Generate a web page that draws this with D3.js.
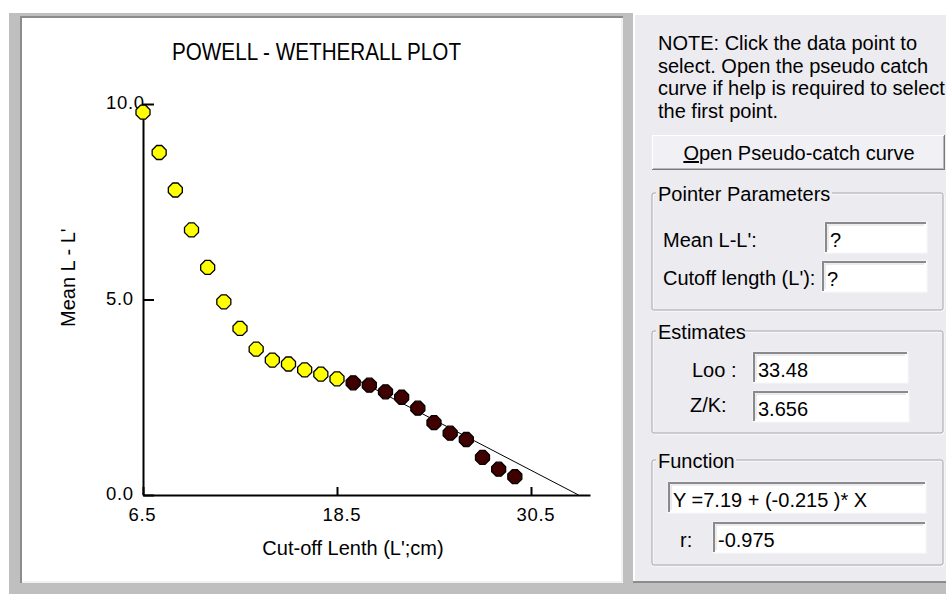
<!DOCTYPE html>
<html>
<head>
<meta charset="utf-8">
<script src="https://cdn.jsdelivr.net/npm/d3@7"></script>
<style>
  body { margin: 0; background: #fff; }
  svg { display: block; font-family: 'Liberation Sans', Arial, sans-serif; }
</style>
</head>
<body>
<svg id="chart" width="946" height="594"></svg>
<script>
// Values
const cutoffLength = [6.5, 7.5, 8.5, 9.5, 10.5, 11.5, 12.5, 13.5, 14.5, 15.5, 16.5, 17.5,
                      18.5, 19.5, 20.5, 21.5, 22.5, 23.5, 24.5, 25.5, 26.5, 27.5, 28.5, 29.5];
const meanDiff = [9.79, 8.76, 7.80, 6.78, 5.82, 4.94, 4.26, 3.73, 3.45, 3.35, 3.20, 3.09,
                  2.97, 2.87, 2.81, 2.64, 2.50, 2.22, 1.85, 1.58, 1.42, 0.96, 0.66, 0.47];
const firstSelected = 19.5;   // points from here on are used in the regression
const fitIntercept = 7.19;
const fitSlope = -0.215;

const xTickValues = [6.5, 18.5, 30.5];
const yTickValues = [0, 5, 10];

const noteLines = [
  'NOTE: Click the data point to',
  'select. Open the pseudo catch',
  'curve if help is required to select',
  'the first point.'
];

const svg = d3.select('#chart');
const face = '#ecebf0';

// ---- window frame ----
svg.append('rect').attr('x', 9).attr('y', 13).attr('width', 937).attr('height', 581).attr('fill', '#bfbfbf');

// left (plot) panel, sunken
svg.append('rect').attr('x', 20).attr('y', 16).attr('width', 603).attr('height', 567).attr('fill', '#8c8c8c');
svg.append('rect').attr('x', 22).attr('y', 18).attr('width', 601).attr('height', 565).attr('fill', '#f2f2f2');
svg.append('rect').attr('x', 22).attr('y', 18).attr('width', 599).attr('height', 563).attr('fill', '#fff');

// right (controls) panel
svg.append('rect').attr('x', 633).attr('y', 13).attr('width', 313).attr('height', 570).attr('fill', '#8c8c8c');
svg.append('rect').attr('x', 633).attr('y', 13).attr('width', 313).attr('height', 568).attr('fill', '#fff');
svg.append('rect').attr('x', 635).attr('y', 15).attr('width', 311).attr('height', 566).attr('fill', face);

// ---- plot ----
const x = d3.scaleLinear().domain([6.5, 34.15]).range([143, 590]);
const y = d3.scaleLinear().domain([0, 10]).range([495, 104]);

svg.append('text')
  .attr('x', 172).attr('y', 60)
  .attr('font-size', 24)
  .attr('font-family', "'Liberation Sans Narrow', 'Liberation Sans', Arial, sans-serif")
  .attr('textLength', 289)
  .attr('lengthAdjust', 'spacingAndGlyphs')
  .text('POWELL - WETHERALL PLOT');

const xAxis = svg.append('g')
  .attr('transform', 'translate(0,495)')
  .call(d3.axisBottom(x).tickValues(xTickValues).tickFormat(d3.format('.1f'))
    .tickSizeInner(-8).tickSizeOuter(0).tickPadding(22));

const yAxis = svg.append('g')
  .attr('transform', 'translate(143,0)')
  .call(d3.axisLeft(y).tickValues(yTickValues).tickFormat(d3.format('.1f'))
    .tickSizeInner(-11).tickSizeOuter(0));

[xAxis, yAxis].forEach(a => {
  a.select('.domain').attr('stroke', '#000').attr('stroke-width', 2);
  a.selectAll('.tick line').attr('stroke', '#000').attr('stroke-width', 2);
  a.selectAll('.tick text').attr('fill', '#000').attr('font-size', 18.5)
    .attr('letter-spacing', 0.7)
    .attr('font-family', "'Liberation Sans', Arial, sans-serif");
});
xAxis.selectAll('.tick text')
  .attr('text-anchor', 'start').attr('x', -15).attr('y', 0).attr('dy', null)
  .attr('transform', 'translate(0,26)');
yAxis.selectAll('.tick text')
  .attr('text-anchor', 'start').attr('x', -37).attr('dy', null).attr('y', 4.5);

svg.append('text')
  .attr('x', 353).attr('y', 555)
  .attr('text-anchor', 'middle').attr('font-size', 20)
  .text("Cut-off Lenth (L';cm)");

svg.append('text')
  .attr('transform', 'translate(75,327) rotate(-90)')
  .attr('text-anchor', 'start').attr('font-size', 20)
  .text("Mean L - L'");

// regression line from first selected point down to the x-intercept
const xEnd = -fitIntercept / fitSlope;
svg.append('line')
  .attr('x1', x(firstSelected)).attr('y1', y(fitIntercept + fitSlope * firstSelected))
  .attr('x2', x(xEnd)).attr('y2', y(0))
  .attr('stroke', '#000').attr('stroke-width', 1);

const points = cutoffLength.map((c, i) => ({ c, m: meanDiff[i] }));
const marker = 'M-2.5,-7L2.5,-7L7,-2.5L7,2.5L2.5,7L-2.5,7L-7,2.5L-7,-2.5Z';
svg.append('g').selectAll('path')
  .data(points)
  .join('path')
  .attr('d', marker)
  .attr('transform', d => `translate(${x(d.c)},${y(d.m)})`)
  .attr('fill', d => d.c >= firstSelected ? '#400000' : '#ffff00')
  .attr('stroke', '#000')
  .attr('stroke-width', 1.3);

// ---- control panel ----
const panel = svg.append('g').attr('font-size', 20).attr('fill', '#000');

panel.selectAll('text.note')
  .data(noteLines)
  .join('text')
  .attr('class', 'note')
  .attr('x', 658)
  .attr('y', (d, i) => 50 + i * 22.7)
  .text(d => d);

// button
panel.append('rect').attr('x', 652).attr('y', 135).attr('width', 293).attr('height', 35).attr('fill', '#7a7a7a');
panel.append('rect').attr('x', 652).attr('y', 135).attr('width', 292).attr('height', 34).attr('fill', '#fff');
panel.append('rect').attr('x', 653).attr('y', 136).attr('width', 291).attr('height', 33).attr('fill', '#b8b8bc');
panel.append('rect').attr('x', 653).attr('y', 136).attr('width', 290).attr('height', 32).attr('fill', '#f1f0f4');
const btn = panel.append('text').attr('x', 799).attr('y', 160).attr('text-anchor', 'middle');
btn.append('tspan').style('text-decoration', 'underline').text('O');
btn.append('tspan').text('pen Pseudo-catch curve');

function groupBox(x0, y0, w, h, label, labelWidth) {
  panel.append('rect').attr('x', x0 + 1).attr('y', y0 + 1).attr('width', w).attr('height', h)
    .attr('fill', 'none').attr('stroke', '#fff').attr('rx', 2);
  panel.append('rect').attr('x', x0).attr('y', y0).attr('width', w).attr('height', h)
    .attr('fill', 'none').attr('stroke', '#a5a4aa').attr('rx', 2);
  panel.append('rect').attr('x', x0 + 4).attr('y', y0 - 3).attr('width', labelWidth).attr('height', 7).attr('fill', face);
  panel.append('text').attr('x', x0 + 6).attr('y', y0 + 8).text(label);
}

function inputBox(x0, y0, w, h, value) {
  panel.append('rect').attr('x', x0).attr('y', y0).attr('width', w).attr('height', h).attr('fill', '#fff');
  panel.append('rect').attr('x', x0).attr('y', y0).attr('width', w).attr('height', h)
    .attr('fill', 'none').attr('stroke', '#f7f7f9').attr('stroke-width', 1);
  panel.append('path')
    .attr('d', `M${x0 + 1},${y0 + h - 1}V${y0 + 1}H${x0 + w - 1}`)
    .attr('fill', 'none').attr('stroke', '#8a8a8e').attr('stroke-width', 2);
  panel.append('path')
    .attr('d', `M${x0 + 3},${y0 + h - 3}V${y0 + 3}H${x0 + w - 3}`)
    .attr('fill', 'none').attr('stroke', '#d8d8d8').attr('stroke-width', 1);
  panel.append('text').attr('x', x0 + 5).attr('y', y0 + 25).text(value);
}

groupBox(652, 193, 291, 117, 'Pointer Parameters', 176);
panel.append('text').attr('x', 663).attr('y', 247).text("Mean L-L':");
panel.append('text').attr('x', 663).attr('y', 285).text("Cutoff length (L'):");
inputBox(825, 222, 102, 31, '?');
inputBox(822, 261, 105, 31, '?');

groupBox(652, 331, 291, 102, 'Estimates', 88);
panel.append('text').attr('x', 692).attr('y', 377).text('Loo :');
panel.append('text').attr('x', 690).attr('y', 412).text('Z/K:');
inputBox(753, 352, 155, 31, '33.48');
inputBox(753, 391, 156, 31, '3.656');

groupBox(652, 460, 291, 105, 'Function', 80);
inputBox(668, 482, 258, 31, `Y =${fitIntercept} + (${fitSlope} )* X`);
panel.append('text').attr('x', 680).attr('y', 547).text('r:');
inputBox(713, 522, 213, 31, '-0.975');
</script>
</body>
</html>
